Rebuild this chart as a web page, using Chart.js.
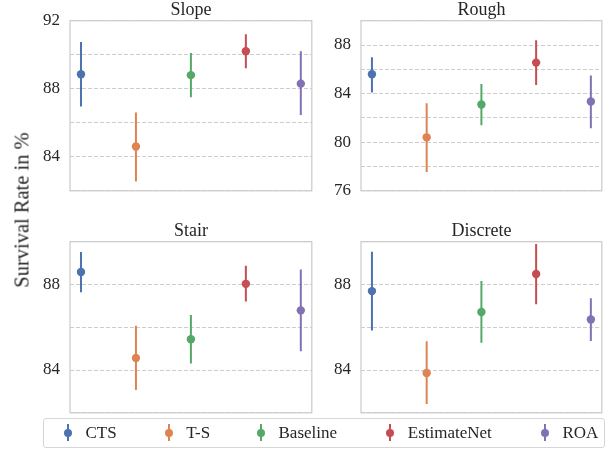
<!DOCTYPE html>
<html><head><meta charset="utf-8">
<script src="https://cdn.jsdelivr.net/npm/chart.js@4.4.0/dist/chart.umd.min.js"></script>
<style>
html,body{margin:0;padding:0;background:#fff;}
body{width:616px;height:449px;position:relative;overflow:hidden;font-family:"Liberation Serif","DejaVu Serif",serif;color:#262626;}
canvas{position:absolute;}
#ylabel{position:absolute;left:22px;top:210px;transform:translate(-50%,-50%) rotate(-90deg);font-size:20.5px;white-space:nowrap;}
#legend{position:absolute;left:42.5px;top:418px;width:562px;height:29.5px;border:1px solid #d6d6d6;border-radius:3px;box-sizing:border-box;background:#fff;}
.mk{position:absolute;width:2px;height:17px;top:5px;}
.dot{position:absolute;width:8px;height:8px;border-radius:50%;top:10px;}
.txt{position:absolute;top:0;font-size:17px;line-height:28px;white-space:nowrap;}
</style>
</head><body>
<canvas id="c0" width="316" height="211" style="left:0;top:0"></canvas>
<canvas id="c1" width="290" height="211" style="left:316px;top:0"></canvas>
<canvas id="c2" width="316" height="212" style="left:0;top:221px"></canvas>
<canvas id="c3" width="290" height="212" style="left:316px;top:221px"></canvas>
<div id="ylabel">Survival Rate in %</div>
<div id="legend"></div>
<script>
const methods = ['CTS', 'T-S', 'Baseline', 'EstimateNet', 'ROA'];
const colors = ['#4c72b0', '#dd8452', '#55a868', '#c44e52', '#8172b3'];

const slopeMean = [88.85, 84.6, 88.8, 90.2, 88.3];
const slopeLow  = [86.95, 82.55, 87.5, 89.2, 86.45];
const slopeHigh = [90.75, 86.6, 90.1, 91.2, 90.2];

const roughMean = [85.6, 80.4, 83.1, 86.55, 83.35];
const roughLow  = [84.1, 77.55, 81.4, 84.7, 81.15];
const roughHigh = [87.0, 83.2, 84.8, 88.4, 85.5];

const stairMean = [88.58, 84.56, 85.44, 88.03, 86.79];
const stairLow  = [87.64, 83.07, 84.31, 87.2, 84.88];
const stairHigh = [89.52, 86.07, 86.57, 88.88, 88.7];

const discreteMean = [87.69, 83.86, 86.71, 88.49, 86.36];
const discreteLow  = [85.85, 82.41, 85.28, 87.08, 85.36];
const discreteHigh = [89.53, 85.34, 88.16, 89.89, 87.36];

const slopeTicks = [84, 88, 92];
const roughTicks = [76, 80, 84, 88];
const stairTicks = [84, 88];
const discreteTicks = [84, 88];

const FONT = '"Liberation Serif","DejaVu Serif",serif';
const TXT = '#262626';

const boxPlugin = {
  id: 'box',
  afterDraw(chart) {
    const a = chart.chartArea, ctx = chart.ctx;
    ctx.save();
    ctx.strokeStyle = '#cccccc';
    ctx.lineWidth = 1.25;
    ctx.strokeRect(a.left, a.top, a.right - a.left, a.bottom - a.top);
    ctx.restore();
  }
};

function makeChart(id, title, mean, low, high, ymin, ymax, labeled, axisW, padR, padB) {
  const datasets = [];
  methods.forEach((m, i) => {
    datasets.push({type: 'line', label: m + ' ci', data: [{x: i, y: low[i]}, {x: i, y: high[i]}],
      borderColor: colors[i], borderWidth: 2, pointRadius: 0, showLine: true, fill: false, order: 2});
    datasets.push({type: 'scatter', label: m, data: [{x: i, y: mean[i]}],
      backgroundColor: colors[i], borderColor: colors[i], pointRadius: 4.2, borderWidth: 0, order: 1});
  });
  new Chart(document.getElementById(id), {
    type: 'scatter',
    data: {datasets},
    options: {
      responsive: false, animation: false, events: [],
      layout: {padding: {left: 0, right: padR, top: 0, bottom: padB}},
      plugins: {
        legend: {display: false}, tooltip: {enabled: false},
        title: {display: true, text: title, fullSize: false, color: TXT,
          font: {family: FONT, size: 18, weight: 'normal', lineHeight: 1.15},
          padding: {top: 0, bottom: 0}}
      },
      scales: {
        x: {type: 'linear', min: -0.2, max: 4.2, display: false},
        y: {min: ymin, max: ymax,
          afterFit(s) { s.width = axisW; },
          ticks: {stepSize: 2, padding: 10, color: TXT, font: {family: FONT, size: 17},
            callback: v => labeled.includes(v) ? String(v) : ''},
          grid: {color: '#cccccc', lineWidth: 1, drawTicks: false},
          border: {display: false, dash: [4, 2]}}
      }
    },
    plugins: [boxPlugin]
  });
}

makeChart('c0', 'Slope', slopeMean, slopeLow, slopeHigh, 82, 92, slopeTicks, 70, 2.5, 14);
makeChart('c1', 'Rough', roughMean, roughLow, roughHigh, 76, 90, roughTicks, 45, 1.7, 13.3);
makeChart('c2', 'Stair', stairMean, stairLow, stairHigh, 82, 90, stairTicks, 70, 2.5, 14);
makeChart('c3', 'Discrete', discreteMean, discreteLow, discreteHigh, 82, 90, discreteTicks, 45, 1.7, 14);

// legend (layout positions relative to legend box)
const legendMarkX = [24.5, 125.2, 217.5, 346.8, 501.5];
const legend = document.getElementById('legend');
methods.forEach((m, i) => {
  const mk = document.createElement('div');
  mk.className = 'mk'; mk.style.background = colors[i]; mk.style.left = (legendMarkX[i] - 1) + 'px';
  const dot = document.createElement('div');
  dot.className = 'dot'; dot.style.background = colors[i]; dot.style.left = (legendMarkX[i] - 4) + 'px';
  const t = document.createElement('div');
  t.className = 'txt'; t.textContent = m; t.style.left = (legendMarkX[i] + 17.5) + 'px';
  legend.appendChild(mk); legend.appendChild(dot); legend.appendChild(t);
});
</script>
</body></html>
